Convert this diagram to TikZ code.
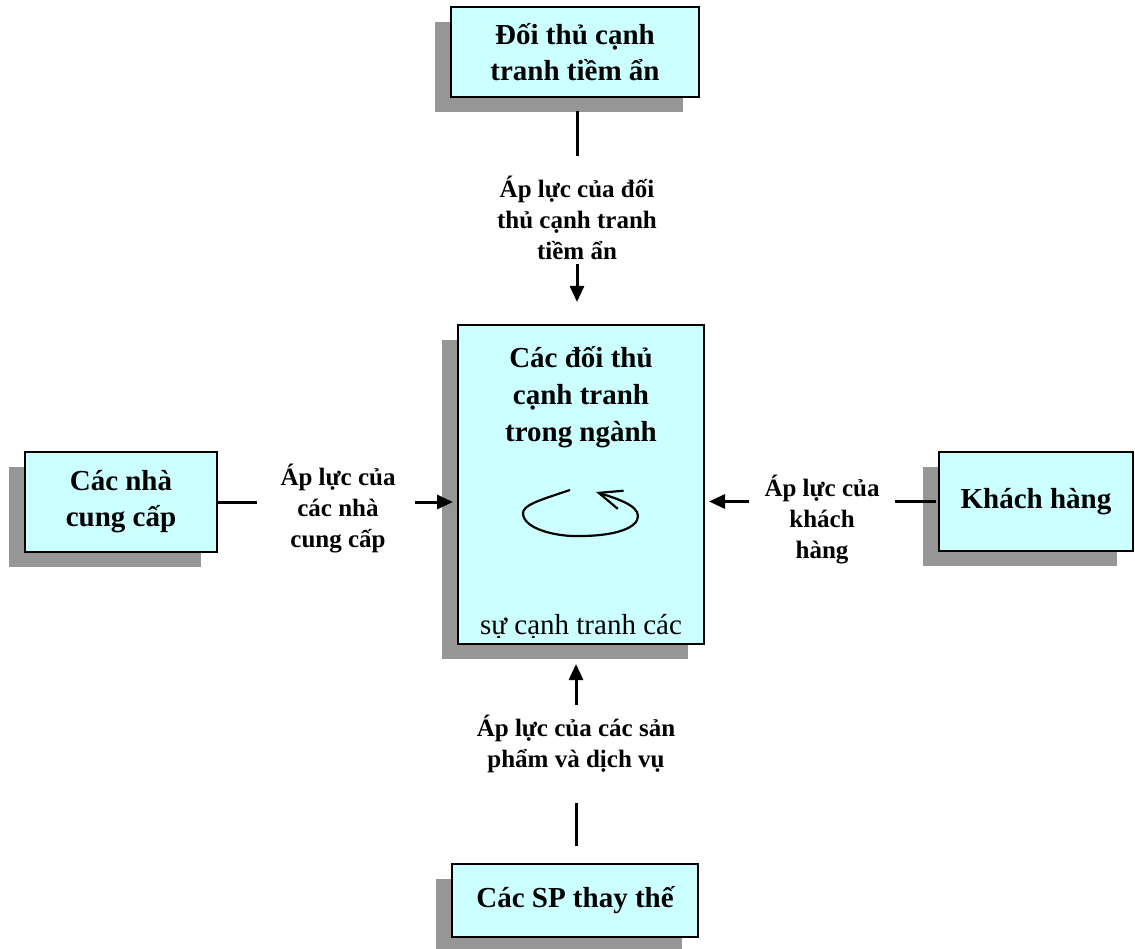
\documentclass[tikz,border=0pt]{standalone}
\usepackage{fontspec}
\setmainfont{Liberation Serif}
\usetikzlibrary{arrows.meta, positioning, shadows}
\definecolor{boxcyan}{RGB}{204,255,255}
\definecolor{shadowgrey}{RGB}{150,150,150}

\begin{document}
\begin{tikzpicture}[
      x=1pt, y=-1pt,
      box/.style={draw, line width=2pt, fill=boxcyan, align=center,
                  inner sep=0pt, font=\fontsize{29}{36}\selectfont\bfseries,
                  general shadow={shadow xshift=-16pt, shadow yshift=-15pt,
                                  draw=none, fill=shadowgrey}},
      pressure/.style={align=center, inner sep=0pt,
                       font=\fontsize{25}{31}\selectfont\bfseries},
      link/.style={line width=3pt},
      push/.style={line width=3pt, -{Triangle[length=16pt,width=14pt]}}
    ]
    \useasboundingbox (0,0) rectangle (1135,949);

    % the five forces
    \node[box, minimum width=248pt, minimum height=90pt] (potential)
      at (575,52) {Đối thủ cạnh\\tranh tiềm ẩn};
    \node[box, minimum width=246pt, minimum height=319pt] (rivals)
      at (581,484.5) {};
    \node[box, minimum width=192pt, minimum height=100pt] (suppliers)
      at (121,502) {Các nhà\\cung cấp};
    \node[box, minimum width=194pt, minimum height=99pt] (buyers)
      at (1036,501.5) {Khách hàng};
    \node[box, minimum width=246pt, minimum height=73pt] (substitutes)
      at (575,900.5) {Các SP thay thế};

    \node[anchor=north, align=center, font=\fontsize{29}{37}\selectfont\bfseries]
      (rivalsTitle) at ([yshift=-19pt]rivals.north)
      {Các đối thủ\\cạnh tranh\\trong ngành};

    % rivalry loop
    \draw[line width=2.2pt, -{Straight Barb[length=23pt,width=19pt]}]
      (570,490) .. controls (540,500) and (523,505) .. (523,513)
      .. controls (523,530) and (560,537) .. (580,536)
      .. controls (615,536) and (638,528) .. (638,516)
      .. controls (638,505) and (615,498) .. (596,492);

    \begin{scope}
      \clip (rivals.north west) rectangle ([yshift=8pt]rivals.south east);
      \node[anchor=base, inner sep=0pt, font=\fontsize{29}{36}\selectfont]
        (rivalsNote) at ([yshift=11pt]rivals.south) {sự cạnh tranh các};
    \end{scope}

    % pressures
    \node[pressure] (lblPotential) at (577,218)
      {Áp lực của đối\\thủ cạnh tranh\\tiềm ẩn};
    \node[pressure] (lblSuppliers) at (338,509)
      {Áp lực của\\các nhà\\cung cấp};
    \node[pressure] (lblBuyers) at (822,520)
      {Áp lực của\\khách\\hàng};
    \node[pressure] (lblSubstitutes) at (576,744)
      {Áp lực của các sản\\phẩm và dịch vụ};

    \draw[link, shorten <=13pt, shorten >=20pt]
      (lblPotential.north |- potential.south) -- (lblPotential.north);
    \draw[push, shorten <=4pt, shorten >=22pt]
      (lblPotential.south) -- (lblPotential.south |- rivals.north);

    \draw[link, shorten >=23pt]
      (suppliers.east) -- (suppliers.east -| lblSuppliers.west);
    \draw[push, shorten <=19pt, shorten >=4pt]
      (lblSuppliers.east |- suppliers.east) -- (rivals.west |- suppliers.east);

    \draw[link, shorten <=2pt, shorten >=15pt]
      (buyers.west) -- (buyers.west -| lblBuyers.east);
    \draw[push, shorten <=15pt, shorten >=4pt]
      (lblBuyers.west |- buyers.west) -- (rivals.east |- buyers.west);

    \draw[link, shorten <=17pt, shorten >=30pt]
      (lblSubstitutes.south |- substitutes.north) -- (lblSubstitutes.south);
    \draw[push, shorten <=10pt, shorten >=19pt]
      (lblSubstitutes.north) -- (lblSubstitutes.north |- rivals.south);
  \end{tikzpicture}
\end{document}
